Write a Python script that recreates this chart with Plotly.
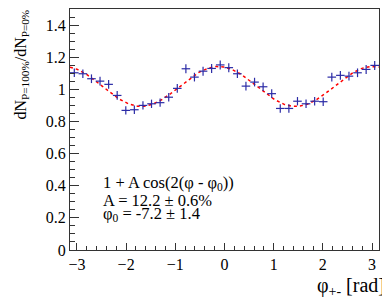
import numpy as np
import plotly.graph_objects as go

# ---- data ----
phi_centers = [-3.054, -2.880, -2.705, -2.531, -2.356, -2.182, -2.007, -1.833, -1.658,
               -1.484, -1.309, -1.134, -0.960, -0.785, -0.611, -0.436, -0.262, -0.087,
               0.087, 0.262, 0.436, 0.611, 0.785, 0.960, 1.134, 1.309, 1.484,
               1.658, 1.833, 2.007, 2.182, 2.356, 2.531, 2.705, 2.880, 3.054]
ratio = [1.103, 1.097, 1.066, 1.051, 1.031, 0.962, 0.869, 0.873, 0.900,
         0.910, 0.917, 0.951, 1.006, 1.128, 1.076, 1.113, 1.130, 1.152,
         1.135, 1.097, 1.020, 1.045, 1.016, 0.973, 0.881, 0.881, 0.926,
         0.910, 0.926, 0.923, 1.076, 1.087, 1.082, 1.103, 1.124, 1.149]
ratio_err = [0.027, 0.027, 0.027, 0.027, 0.027, 0.027, 0.026, 0.026, 0.026,
             0.026, 0.026, 0.026, 0.027, 0.028, 0.027, 0.028, 0.028, 0.028,
             0.028, 0.027, 0.027, 0.027, 0.027, 0.027, 0.026, 0.026, 0.026,
             0.026, 0.026, 0.026, 0.027, 0.027, 0.027, 0.027, 0.028, 0.028]
bin_half_width = 0.0873

# fit parameters
fit_norm = 1.018
fit_A = 0.122
fit_phi0_deg = -7.2

x_ticks = [-3, -2, -1, 0, 1, 2, 3]
y_ticks = [0, 0.2, 0.4, 0.6, 0.8, 1.0, 1.2, 1.4]
y_tick_labels = ["0", "0.2", "0.4", "0.6", "0.8", "1", "1.2", "1.4"]

FONT = "Liberation Serif, Times New Roman, serif"

phi_fine = np.linspace(-np.pi, np.pi, 400)
fit_curve = fit_norm * (1 + fit_A * np.cos(2 * (phi_fine - np.deg2rad(fit_phi0_deg))))

fig = go.Figure()
fig.add_trace(go.Scatter(
    x=phi_fine, y=fit_curve, mode="lines",
    line=dict(color="#ff0000", width=1.5, dash="dot"),
    hoverinfo="skip", showlegend=False))
fig.add_trace(go.Scatter(
    x=phi_centers, y=ratio, mode="markers",
    marker=dict(size=1, color="rgba(0,0,0,0)"),
    error_x=dict(type="constant", value=bin_half_width, width=0, thickness=1.2, color="#2b2ba6"),
    error_y=dict(type="data", array=ratio_err, width=0, thickness=1.2, color="#2b2ba6"),
    showlegend=False))

# the page body adds an 8px margin, so the figure is 8px smaller and margins reduced
fig.update_layout(
    width=382, height=294,
    margin=dict(l=62, r=11, t=1, b=52),
    paper_bgcolor="white", plot_bgcolor="white",
    font=dict(family=FONT, size=16, color="black"),
    xaxis=dict(range=[-np.pi, np.pi], tickvals=x_ticks, ticks="inside", ticklen=7,
               tickwidth=1, tickcolor="#333", showline=True, linecolor="#333", linewidth=1,
               mirror=True, showgrid=False, zeroline=False,
               minor=dict(dtick=0.2, ticks="inside", ticklen=4, tickcolor="#333", tick0=0),
               tickfont=dict(size=16)),
    yaxis=dict(range=[0, 1.5], tickvals=y_ticks, ticktext=y_tick_labels, ticks="inside",
               ticklen=9, tickwidth=1, tickcolor="#333", showline=True, linecolor="#333",
               linewidth=1, mirror=True, showgrid=False, zeroline=False,
               minor=dict(dtick=0.05, ticks="inside", ticklen=5, tickcolor="#333", tick0=0),
               tickfont=dict(size=16)),
)

# window pixel -> paper coordinates (plot area spans x 70..379, y 9..250 in the window)
def px_x(p):
    return (p - 70) / 309.0

def px_y(p):
    return (250 - p) / 241.0

ann = [
    dict(text="dN<sub>P=100%</sub>/dN<sub>P=0%</sub>", x=px_x(9), y=px_y(8),
         xanchor="left", yanchor="top", textangle=-90, font=dict(size=16)),
    dict(text="φ<sub>+-</sub> [rad]", x=px_x(387), y=px_y(286), xanchor="right",
         yanchor="middle", font=dict(size=20)),
    dict(text="1 + A cos(2(φ - φ<sub>0</sub>))", x=px_x(101), y=px_y(183),
         xanchor="left", yanchor="middle", font=dict(size=16.5)),
    dict(text="A = 12.2 ± 0.6%", x=px_x(101), y=px_y(200),
         xanchor="left", yanchor="middle", font=dict(size=16.5)),
    dict(text="φ<sub>0</sub> = -7.2 ± 1.4", x=px_x(101), y=px_y(214),
         xanchor="left", yanchor="middle", font=dict(size=16.5)),
]
for a in ann:
    fig.add_annotation(xref="paper", yref="paper", showarrow=False, **a)

fig.write_html("out.html")
